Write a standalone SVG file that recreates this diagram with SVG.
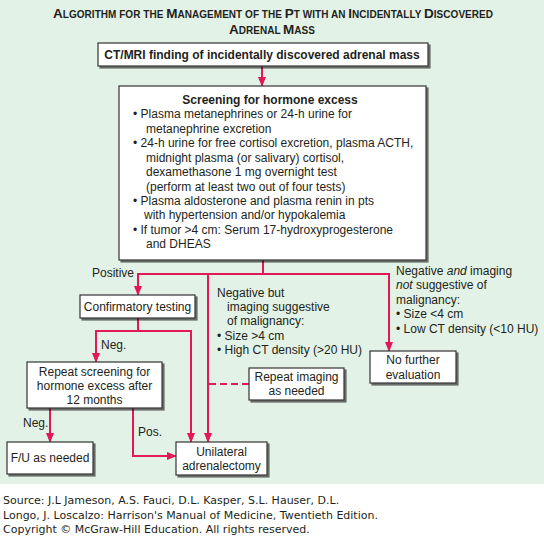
<svg xmlns="http://www.w3.org/2000/svg" width="544" height="536" viewBox="0 0 544 536">
<defs>
<marker id="ah" markerWidth="10" markerHeight="10" viewBox="0 0 10 10" refX="9" refY="5" orient="auto" markerUnits="userSpaceOnUse">
<path d="M0,1 L10,5 L0,9 Z" fill="#e3185a"/>
</marker>
<filter id="sh" x="-10%" y="-10%" width="130%" height="140%">
<feOffset dx="2" dy="2" in="SourceAlpha" result="o"/>
<feGaussianBlur in="o" stdDeviation="0.6" result="b"/>
<feComponentTransfer in="b" result="c"><feFuncA type="linear" slope="0.55"/></feComponentTransfer>
<feMerge><feMergeNode in="c"/><feMergeNode in="SourceGraphic"/></feMerge>
</filter>
</defs>
<style>
.box{fill:#ffffff;stroke:#333333;stroke-width:1.2;filter:url(#sh)}
.t{font-family:"Liberation Sans",Arial,sans-serif;font-size:12px;fill:#231f20}
.c{text-anchor:middle}
.b{font-weight:bold}
.ttl{font-family:"Liberation Sans",Arial,sans-serif;font-size:13.5px;font-weight:bold;fill:#231f20;text-anchor:middle}
.sc{font-size:10px}
.ln{fill:none;stroke:#e3185a;stroke-width:2}
.dash{stroke-dasharray:7,4}
.ft{font-family:"DejaVu Sans",Verdana,sans-serif;font-size:11px;fill:#231f20}
</style>
<rect x="0" y="0" width="544" height="484" fill="#e2f2e6"/>
<g id="title">
<text class="ttl" x="273" y="18" textLength="440" lengthAdjust="spacing">A<tspan class="sc">LGORITHM FOR THE </tspan>M<tspan class="sc">ANAGEMENT OF THE </tspan>P<tspan class="sc">T WITH AN </tspan>I<tspan class="sc">NCIDENTALLY </tspan>D<tspan class="sc">ISCOVERED</tspan></text>
<text class="ttl" x="272" y="34">A<tspan class="sc">DRENAL </tspan>M<tspan class="sc">ASS</tspan></text>
</g>
<g id="connectors">
<line class="ln" x1="262" y1="66" x2="262" y2="86" marker-end="url(#ah)"/>
<polyline class="ln" points="263,260 263,274"/>
<polyline class="ln" points="389,274 138,274 138,295" marker-end="url(#ah)"/>
<polyline class="ln" points="208,274 208,442" marker-end="url(#ah)"/>
<polyline class="ln" points="389,273 389,351" marker-end="url(#ah)"/>
<polyline class="ln" points="138,318 138,331"/>
<polyline class="ln" points="191,331 96,331 96,362" marker-end="url(#ah)"/>
<polyline class="ln" points="191,330 191,442" marker-end="url(#ah)"/>
<polyline class="ln" points="50,408 50,442" marker-end="url(#ah)"/>
<polyline class="ln" points="133,408 133,456 176,456" marker-end="url(#ah)"/>
<line class="ln dash" x1="209" y1="384" x2="249" y2="384"/>
</g>
<g id="labels">
<text class="t" x="92" y="277">Positive</text>
<text class="t" x="101" y="349">Neg.</text>
<text class="t" x="23" y="427">Neg.</text>
<text class="t" x="138" y="436">Pos.</text>
<text class="t" x="217" y="297">Negative but</text>
<text class="t" x="227" y="311">imaging suggestive</text>
<text class="t" x="227" y="325">of malignancy:</text>
<text class="t" x="217" y="340">• Size &gt;4 cm</text>
<text class="t" x="217" y="354">• High CT density (&gt;20 HU)</text>
<text class="t" x="396" y="275">Negative <tspan font-style="italic">and</tspan> imaging</text>
<text class="t" x="396" y="289"><tspan font-style="italic">not</tspan> suggestive of</text>
<text class="t" x="396" y="304">malignancy:</text>
<text class="t" x="396" y="318">• Size &lt;4 cm</text>
<text class="t" x="396" y="333">• Low CT density (&lt;10 HU)</text>
</g>
<g id="ct">
<rect class="box" x="98" y="43" width="330" height="23"/>
<text class="t b c" x="262" y="58.5">CT/MRI finding of incidentally discovered adrenal mass</text>
</g>
<g id="screening">
<rect class="box" x="119" y="86" width="307" height="174"/>
<text class="t b c" x="270" y="104">Screening for hormone excess</text>
<text class="t" x="133" y="118">• Plasma metanephrines or 24-h urine for</text>
<text class="t" x="146" y="133">metanephrine excretion</text>
<text class="t" x="133" y="147">• 24-h urine for free cortisol excretion, plasma ACTH,</text>
<text class="t" x="146" y="162">midnight plasma (or salivary) cortisol,</text>
<text class="t" x="146" y="176">dexamethasone 1 mg overnight test</text>
<text class="t" x="146" y="191">(perform at least two out of four tests)</text>
<text class="t" x="133" y="205">• Plasma aldosterone and plasma renin in pts</text>
<text class="t" x="144" y="219">with hypertension and/or hypokalemia</text>
<text class="t" x="133" y="234">• If tumor &gt;4 cm: Serum 17-hydroxyprogesterone</text>
<text class="t" x="146" y="248">and DHEAS</text>
</g>
<g id="confirm">
<rect class="box" x="80" y="295" width="115" height="23"/>
<text class="t c" x="137.5" y="311">Confirmatory testing</text>
</g>
<g id="repeat-screen">
<rect class="box" x="27" y="362" width="135" height="46"/>
<text class="t c" x="94.5" y="376">Repeat screening for</text>
<text class="t c" x="94.5" y="390">hormone excess after</text>
<text class="t c" x="94.5" y="404">12 months</text>
</g>
<g id="fu">
<rect class="box" x="7" y="442" width="86" height="32"/>
<text class="t c" x="50" y="462">F/U as needed</text>
</g>
<g id="adrenalectomy">
<rect class="box" x="176" y="442" width="91" height="33"/>
<text class="t c" x="221.5" y="456">Unilateral</text>
<text class="t c" x="221.5" y="470">adrenalectomy</text>
</g>
<g id="repeat-imaging">
<rect class="box" x="249" y="368" width="95" height="32"/>
<text class="t c" x="296.5" y="381">Repeat imaging</text>
<text class="t c" x="296.5" y="395">as needed</text>
</g>
<g id="no-further">
<rect class="box" x="370" y="351" width="86" height="32"/>
<text class="t c" x="413" y="364">No further</text>
<text class="t c" x="413" y="379">evaluation</text>
</g>
<g id="footer">
<text class="ft" x="3" y="504">Source: J.L Jameson, A.S. Fauci, D.L. Kasper, S.L. Hauser, D.L.</text>
<text class="ft" x="3" y="518.5">Longo, J. Loscalzo: Harrison's Manual of Medicine, Twentieth Edition.</text>
<text class="ft" x="3" y="533">Copyright © McGraw-Hill Education. All rights reserved.</text>
</g>
</svg>
